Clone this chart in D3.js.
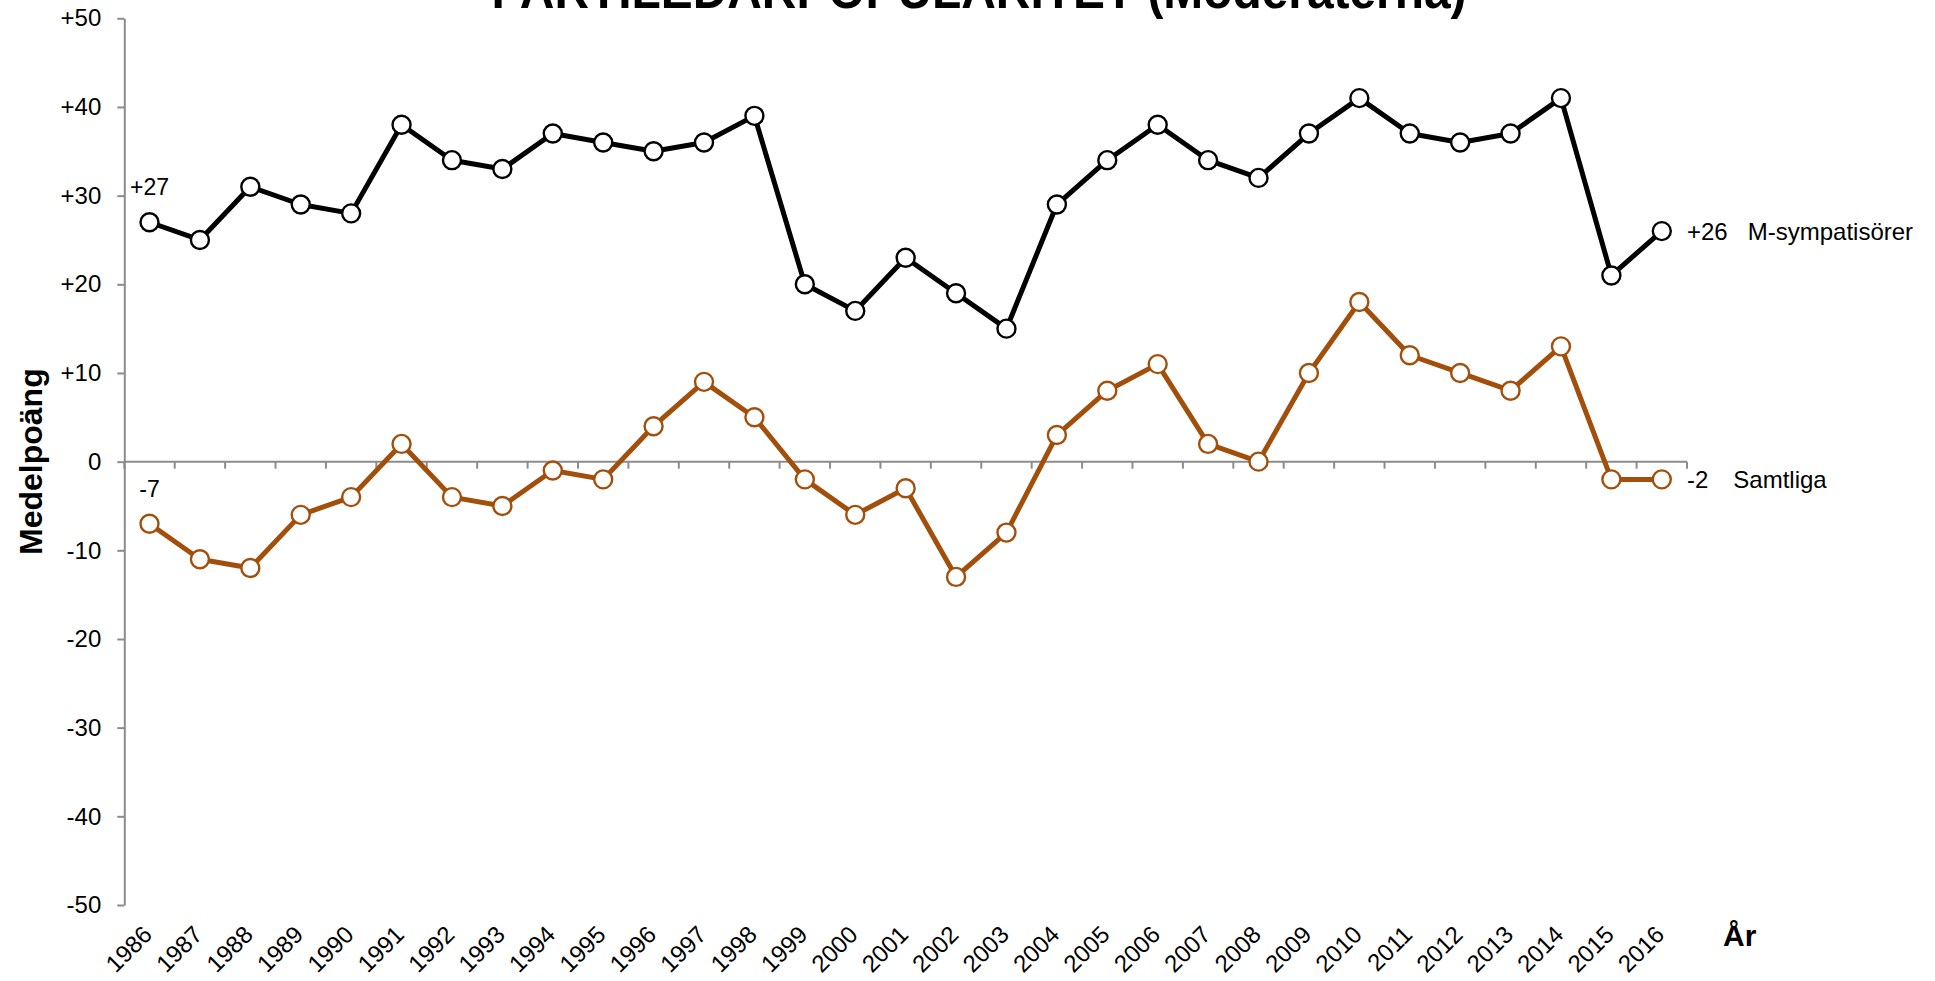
<!DOCTYPE html>
<meta charset="utf-8">
<style>
body { margin: 0; background: #fff; }
text { font-family: "Liberation Sans", Arial, sans-serif; fill: #000; }
.axis path, .axis line { stroke: #8c8c8c; stroke-width: 2px; }
.axis text { font-size: 24px; }
.line { fill: none; stroke-width: 5px; stroke-linejoin: round; }
</style>
<body>
<script src="https://cdn.jsdelivr.net/npm/d3@7"></script>
<script>

// years on the x axis
var years = d3.range(1986, 2017);

// mean score, M-sympatisörer (black line)
var mSymp = [27, 25, 31, 29, 28, 38, 34, 33, 37, 36, 35, 36, 39, 20, 17, 23,
             19, 15, 29, 34, 38, 34, 32, 37, 41, 37, 36, 37, 41, 21, 26];

// mean score, samtliga (brown line)
var samtliga = [-7, -11, -12, -6, -4, 2, -4, -5, -1, -2, 4, 9, 5, -2, -6, -3,
                -13, -8, 3, 8, 11, 2, 0, 10, 18, 12, 10, 8, 13, -2, -2];

var yTicks = d3.range(-50, 51, 10);

var series = [
  {name: "M-sympatisörer", values: mSymp, color: "#000000"},
  {name: "Samtliga", values: samtliga, color: "#a24f0c"}
];

var width = 1935, height = 981;
// plot area (note: "top" is reserved on window, so use other names)
var plotL = 124.3, plotR = 1687, plotT = 18.3, plotB = 905;

var svg = d3.select("body").append("svg")
    .attr("width", width)
    .attr("height", height);

var x = d3.scaleBand().domain(years).range([plotL, plotR]).padding(0);
var y = d3.scaleLinear().domain([-50, 50]).range([plotB, plotT]);

function fmt(d) { return d > 0 ? "+" + d : "" + d; }
function cx(i) { return x(years[i]) + x.bandwidth() / 2; }

// title (mostly cut off at the top, as in the original)
svg.append("text")
    .attr("x", (490 + 1468) / 2)
    .attr("y", 8)
    .attr("text-anchor", "middle")
    .attr("textLength", 975)
    .attr("lengthAdjust", "spacingAndGlyphs")
    .style("font-size", "52px")
    .style("font-weight", "bold")
    .text("PARTILEDARPOPULARITET (Moderaterna)");

// y axis
svg.append("g")
    .attr("class", "axis")
    .attr("transform", "translate(" + plotL + ",0)")
    .call(d3.axisLeft(y).tickValues(yTicks).tickFormat(fmt)
        .tickSize(7).tickSizeOuter(0).tickPadding(16));

// x axis line at zero with ticks between the years
var xg = svg.append("g")
    .attr("class", "axis")
    .attr("transform", "translate(0," + y(0) + ")");
xg.append("line")
    .attr("x1", plotL).attr("x2", plotR);
xg.selectAll(".tk")
    .data(years.concat([null]))
    .enter().append("line")
    .attr("class", "tk")
    .attr("x1", function(d) { return d === null ? plotR : x(d); })
    .attr("x2", function(d) { return d === null ? plotR : x(d); })
    .attr("y1", 0).attr("y2", 7);

// year labels at the bottom, rotated
svg.append("g").selectAll("text")
    .data(years)
    .enter().append("text")
    .attr("transform", function(d, i) {
        return "translate(" + (cx(i) + 4) + ",936) rotate(-45)";
    })
    .attr("text-anchor", "end")
    .style("font-size", "24px")
    .text(function(d) { return d; });

svg.append("text")
    .attr("x", 1723)
    .attr("y", 946)
    .style("font-size", "30px")
    .style("font-weight", "bold")
    .text("År");

svg.append("text")
    .attr("transform", "translate(42," + (plotT + plotB) / 2 + ") rotate(-90)")
    .attr("text-anchor", "middle")
    .style("font-size", "32px")
    .style("font-weight", "bold")
    .text("Medelpoäng");

var line = d3.line()
    .x(function(d, i) { return cx(i); })
    .y(function(d) { return y(d); });

series.forEach(function(s) {
    svg.append("path")
        .attr("class", "line")
        .attr("stroke", s.color)
        .attr("d", line(s.values));

    svg.append("g").selectAll("circle")
        .data(s.values)
        .enter().append("circle")
        .attr("cx", function(d, i) { return cx(i); })
        .attr("cy", function(d) { return y(d); })
        .attr("r", 9)
        .attr("fill", "#fff")
        .attr("stroke", s.color)
        .attr("stroke-width", 2.4);

    // first value above the first point
    var v0 = s.values[0];
    svg.append("text")
        .attr("x", cx(0))
        .attr("y", y(v0) - 27)
        .attr("text-anchor", "middle")
        .style("font-size", "23px")
        .text(fmt(v0));

    // last value and series name at the right end
    var vn = s.values[s.values.length - 1];
    var t = svg.append("text")
        .attr("x", plotR)
        .attr("y", y(vn))
        .attr("dy", "0.36em")
        .style("font-size", "24px")
        .text(fmt(vn));
    t.append("tspan")
        .attr("dx", vn > 0 ? 20 : 25)
        .text(s.name);
});

</script>
</body>
